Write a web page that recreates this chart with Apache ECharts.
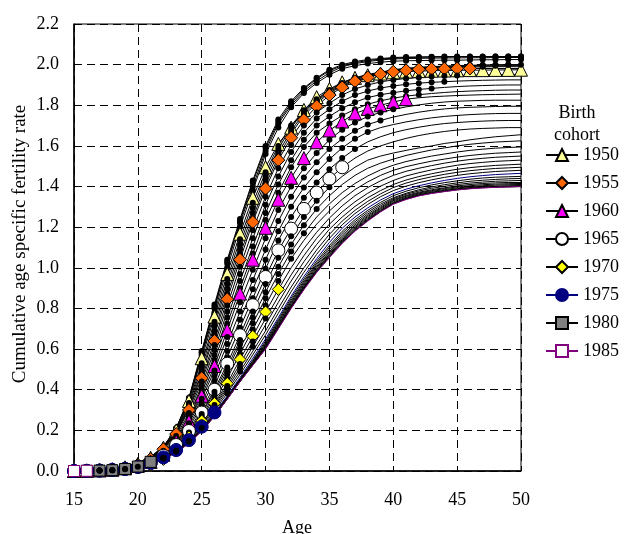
<!DOCTYPE html>
<html><head><meta charset="utf-8">
<script src="https://cdn.jsdelivr.net/npm/echarts@6/dist/echarts.min.js"></script>
<style>html,body{margin:0;padding:0;background:#fff}#chart{width:624px;height:534px}</style>
</head><body><div id="chart"></div>
<script>
const ages = [15,16,17,18,19,20,21,22,23,24,25,26,27,28,29,30,31,32,33,34,35,36,37,38,39,40,41,42,43,44,45,46,47,48,49,50];
const cohortYears = [1946,1947,1948,1949,1950,1951,1952,1953,1954,1955,1956,1957,1958,1959,1960,1961,1962,1963,1964,1965,1966,1967,1968,1969,1970,1971,1972,1973,1974,1975,1976,1977,1978,1979,1980,1981,1982,1983,1984,1985];
const lastObservedAge = [50,50,50,50,50,50,49,48,47,46,45,44,43,42,41,40,39,38,37,36,35,34,33,32,31,30,29,28,27,26,25,24,23,22,21,20,19,18,17,16];
const legendCohorts = ['1950','1955','1960','1965','1970','1975','1980','1985'];

const c1946 = [0,0.002,0.005,0.01,0.02, 0.04,0.07,0.12,0.21,0.36, 0.59,0.82,1.04,1.24,1.43, 1.60,1.73,1.82,1.885,1.935, 1.975,2.0,2.015,2.025,2.03, 2.035,2.037,2.038,2.039,2.04, 2.04,2.04,2.04,2.04,2.04, 2.04];
const c1947 = [0,0.002,0.005,0.01,0.02, 0.04,0.07,0.12,0.21,0.355, 0.585,0.81,1.03,1.23,1.42, 1.59,1.72,1.81,1.88,1.93, 1.97,1.995,2.01,2.02,2.027, 2.032,2.035,2.036,2.037,2.038, 2.038,2.039,2.039,2.04,2.04, 2.04];
const c1948 = [0,0.002,0.005,0.01,0.019, 0.038,0.068,0.118,0.208,0.352, 0.578,0.80,1.02,1.22,1.40, 1.575,1.71,1.80,1.87,1.92, 1.96,1.99,2.005,2.015,2.023, 2.028,2.03,2.031,2.032,2.033, 2.033,2.034,2.034,2.035,2.035, 2.035];
const c1949 = [0,0.002,0.004,0.009,0.018, 0.037,0.066,0.116,0.205,0.35, 0.57,0.78,1.0,1.20,1.38, 1.56,1.69,1.79,1.86,1.91, 1.95,1.98,1.995,2.005,2.012, 2.017,2.019,2.02,2.021,2.022, 2.022,2.023,2.024,2.024,2.025, 2.025];
const c1950 = [0,0.002,0.004,0.009,0.018, 0.035,0.065,0.115,0.2,0.345, 0.555,0.76,0.97,1.168,1.345, 1.495,1.61,1.69,1.777,1.84, 1.88,1.913,1.935,1.948,1.956, 1.962,1.966,1.968,1.97,1.971, 1.972,1.973,1.973,1.974,1.974, 1.975];
const c1951 = [0,0.002,0.004,0.008,0.017, 0.033,0.062,0.112,0.195,0.335, 0.53,0.735,0.945,1.14,1.32, 1.47,1.60,1.70,1.775,1.83, 1.875,1.91,1.935,1.952,1.963, 1.975,1.982,1.987,1.99,1.993, 1.995,1.997,1.998,1.999,2.0, 2.0];
const c1952 = [0,0.002,0.004,0.008,0.016, 0.032,0.061,0.11,0.19,0.325, 0.51,0.715,0.92,1.115,1.295, 1.45,1.585,1.69,1.77,1.825, 1.87,1.905,1.93,1.948,1.96, 1.973,1.98,1.985,1.988,1.991, 1.993,1.995,1.997,1.998,1.999, 2.0];
const c1953 = [0,0.002,0.004,0.008,0.016, 0.031,0.06,0.109,0.187,0.315, 0.49,0.69,0.895,1.09,1.27, 1.43,1.565,1.675,1.76,1.82, 1.865,1.90,1.925,1.944,1.957, 1.97,1.977,1.982,1.985,1.988, 1.99,1.992,1.993,1.994,1.995, 1.995];
const c1954 = [0,0.002,0.004,0.008,0.015, 0.03,0.059,0.108,0.184,0.308, 0.475,0.67,0.87,1.065,1.245, 1.41,1.545,1.66,1.75,1.81, 1.86,1.895,1.92,1.94,1.954, 1.968,1.975,1.98,1.983,1.986, 1.987,1.988,1.989,1.99,1.99, 1.99];
const c1955 = [0,0.002,0.004,0.008,0.015, 0.03,0.058,0.107,0.182,0.30, 0.457,0.64,0.845,1.04,1.225, 1.39,1.53,1.64,1.728,1.795, 1.85,1.888,1.918,1.937,1.953, 1.965,1.972,1.977,1.979,1.98, 1.981,1.981,1.981,1.981,1.981, 1.981];
const c1956 = [0,0.002,0.004,0.008,0.015, 0.029,0.055,0.10,0.172,0.285, 0.44,0.62,0.815,1.005,1.185, 1.35,1.49,1.605,1.70,1.765, 1.81,1.85,1.88,1.90,1.915, 1.925,1.932,1.937,1.941,1.944, 1.947,1.948,1.949,1.95,1.95, 1.95];
const c1957 = [0,0.001,0.003,0.007,0.014, 0.028,0.052,0.095,0.163,0.27, 0.42,0.595,0.785,0.97,1.145, 1.31,1.45,1.57,1.665,1.735, 1.78,1.82,1.85,1.87,1.885, 1.895,1.903,1.909,1.913,1.916, 1.919,1.921,1.923,1.924,1.925, 1.925];
const c1958 = [0,0.001,0.003,0.007,0.013, 0.027,0.05,0.088,0.155,0.258, 0.40,0.57,0.755,0.935,1.105, 1.27,1.41,1.53,1.63,1.70, 1.745,1.785,1.815,1.838,1.852, 1.862,1.871,1.878,1.883,1.888, 1.892,1.895,1.897,1.899,1.90, 1.90];
const c1959 = [0,0.001,0.003,0.006,0.013, 0.026,0.048,0.083,0.148,0.25, 0.385,0.545,0.725,0.90,1.07, 1.235,1.37,1.495,1.595,1.665, 1.71,1.75,1.78,1.805,1.822, 1.835,1.845,1.852,1.858,1.863, 1.867,1.87,1.872,1.874,1.875, 1.875];
const c1960 = [0,0.001,0.003,0.006,0.013, 0.025,0.045,0.08,0.145,0.244, 0.37,0.517,0.693,0.873,1.04, 1.197,1.335,1.443,1.54,1.618, 1.676,1.72,1.76,1.782,1.80, 1.816,1.83,1.837,1.842,1.845, 1.848,1.85,1.852,1.853,1.854, 1.855];
const c1961 = [0,0.001,0.003,0.006,0.012, 0.024,0.044,0.079,0.142,0.235, 0.355,0.495,0.66,0.83,0.99, 1.145,1.285,1.40,1.49,1.565, 1.63,1.68,1.715,1.745,1.765, 1.78,1.792,1.802,1.81,1.816, 1.82,1.822,1.824,1.825,1.825, 1.825];
const c1962 = [0,0.001,0.003,0.005,0.012, 0.023,0.043,0.078,0.138,0.225, 0.335,0.47,0.625,0.785,0.94, 1.09,1.23,1.35,1.445,1.52, 1.585,1.635,1.675,1.705,1.725, 1.742,1.755,1.766,1.775,1.782, 1.787,1.79,1.792,1.794,1.795, 1.795];
const c1963 = [0,0.001,0.002,0.005,0.011, 0.022,0.042,0.077,0.135,0.215, 0.318,0.445,0.59,0.745,0.895, 1.04,1.18,1.30,1.395,1.47, 1.535,1.59,1.635,1.668,1.69, 1.705,1.718,1.729,1.738,1.745, 1.75,1.754,1.757,1.759,1.76, 1.76];
const c1964 = [0,0.001,0.002,0.005,0.011, 0.021,0.041,0.076,0.13,0.205, 0.30,0.42,0.56,0.705,0.85, 0.995,1.135,1.25,1.345,1.42, 1.485,1.54,1.585,1.62,1.645, 1.665,1.68,1.692,1.702,1.71, 1.715,1.719,1.722,1.724,1.725, 1.725];
const c1965 = [0,0.001,0.002,0.005,0.01, 0.02,0.04,0.075,0.128,0.197, 0.288,0.40,0.528,0.668,0.816, 0.955,1.086,1.193,1.29,1.37, 1.438,1.495,1.54,1.575,1.60, 1.62,1.637,1.651,1.662,1.671, 1.678,1.683,1.686,1.688,1.69, 1.69];
const c1966 = [0,0.001,0.002,0.005,0.01, 0.019,0.038,0.072,0.122,0.19, 0.28,0.39,0.51,0.645,0.785, 0.92,1.05,1.155,1.25,1.33, 1.397,1.45,1.495,1.53,1.55, 1.565,1.578,1.59,1.60,1.612, 1.62,1.63,1.638,1.645,1.65, 1.655];
const c1967 = [0,0.001,0.002,0.004,0.009, 0.018,0.036,0.068,0.116,0.185, 0.27,0.375,0.495,0.625,0.755, 0.88,1.005,1.115,1.21,1.29, 1.355,1.41,1.455,1.49,1.515, 1.535,1.553,1.567,1.58,1.59, 1.60,1.608,1.614,1.619,1.622, 1.625];
const c1968 = [0,0.001,0.002,0.004,0.009, 0.017,0.034,0.064,0.11,0.178, 0.26,0.362,0.478,0.602,0.727, 0.85,0.97,1.08,1.17,1.25, 1.315,1.37,1.415,1.452,1.482, 1.505,1.523,1.537,1.55,1.56, 1.57,1.578,1.584,1.589,1.592, 1.595];
const c1969 = [0,0.001,0.002,0.004,0.008, 0.016,0.032,0.06,0.105,0.172, 0.252,0.347,0.457,0.577,0.697, 0.815,0.935,1.045,1.135,1.215, 1.28,1.337,1.385,1.423,1.455, 1.48,1.498,1.512,1.525,1.535, 1.545,1.553,1.559,1.564,1.567, 1.57];
const c1970 = [0,0.001,0.002,0.004,0.008, 0.015,0.03,0.057,0.10,0.168, 0.246,0.333,0.431,0.549,0.663, 0.783,0.894,1.00,1.095,1.175, 1.245,1.305,1.355,1.395,1.428, 1.455,1.475,1.49,1.503,1.515, 1.525,1.533,1.539,1.544,1.547, 1.55];
const c1971 = [0,0.001,0.002,0.004,0.008, 0.016,0.032,0.059,0.10,0.164, 0.24,0.325,0.418,0.527,0.637, 0.75,0.86,0.965,1.06,1.145, 1.215,1.275,1.325,1.367,1.402, 1.43,1.452,1.468,1.482,1.494, 1.505,1.513,1.519,1.524,1.527, 1.53];
const c1972 = [0,0.001,0.002,0.004,0.008, 0.017,0.034,0.061,0.101,0.16, 0.234,0.318,0.407,0.508,0.612, 0.72,0.83,0.935,1.03,1.115, 1.19,1.25,1.302,1.345,1.38, 1.41,1.432,1.449,1.463,1.475, 1.485,1.493,1.499,1.504,1.507, 1.51];
const c1973 = [0,0.001,0.002,0.004,0.008, 0.018,0.035,0.063,0.102,0.157, 0.228,0.308,0.396,0.49,0.59, 0.69,0.8,0.905,1.0,1.088, 1.165,1.23,1.283,1.327,1.364, 1.395,1.417,1.434,1.448,1.46, 1.47,1.478,1.484,1.489,1.492, 1.495];
const c1974 = [0,0.001,0.002,0.004,0.009, 0.019,0.037,0.065,0.102,0.154, 0.222,0.298,0.383,0.475,0.572, 0.67,0.777,0.882,0.978,1.066, 1.145,1.212,1.267,1.312,1.35, 1.38,1.402,1.419,1.433,1.445, 1.455,1.463,1.469,1.474,1.477, 1.48];
const c1975 = [0,0.001,0.002,0.005,0.01, 0.02,0.04,0.067,0.103,0.152, 0.218,0.288,0.37,0.46,0.555, 0.65,0.755,0.86,0.957,1.045, 1.125,1.195,1.25,1.295,1.334, 1.365,1.387,1.404,1.418,1.43, 1.44,1.448,1.454,1.459,1.462, 1.465];
const c1976 = [0,0.001,0.002,0.005,0.01, 0.02,0.039,0.065,0.10,0.148, 0.212,0.283,0.365,0.453,0.545, 0.64,0.745,0.85,0.945,1.033, 1.11,1.18,1.237,1.283,1.322, 1.355,1.377,1.394,1.408,1.419, 1.428,1.436,1.442,1.446,1.448, 1.45];
const c1977 = [0,0.001,0.002,0.005,0.01, 0.02,0.039,0.064,0.098,0.145, 0.208,0.279,0.362,0.449,0.54, 0.632,0.737,0.84,0.935,1.023, 1.1,1.17,1.227,1.274,1.313, 1.345,1.367,1.384,1.398,1.409, 1.418,1.426,1.431,1.435,1.438, 1.44];
const c1978 = [0,0.001,0.003,0.006,0.011, 0.021,0.04,0.063,0.096,0.143, 0.205,0.276,0.36,0.446,0.535, 0.625,0.73,0.832,0.927,1.015, 1.09,1.16,1.218,1.265,1.305, 1.34,1.362,1.378,1.391,1.401, 1.41,1.417,1.422,1.426,1.428, 1.43];
const c1979 = [0,0.001,0.003,0.006,0.012, 0.022,0.041,0.063,0.095,0.142, 0.203,0.274,0.358,0.444,0.531, 0.62,0.723,0.825,0.92,1.007, 1.08,1.151,1.21,1.258,1.298, 1.335,1.356,1.372,1.384,1.394, 1.403,1.41,1.415,1.418,1.42, 1.42];
const c1980 = [0,0.001,0.002,0.004,0.01, 0.022,0.045,0.065,0.096,0.141, 0.202,0.273,0.358,0.443,0.529, 0.615,0.717,0.818,0.913,1.0, 1.075,1.145,1.203,1.252,1.293, 1.33,1.352,1.368,1.38,1.39, 1.398,1.404,1.409,1.412,1.414, 1.415];
const c1981 = [0,0.001,0.002,0.004,0.01, 0.021,0.042,0.062,0.094,0.14, 0.2,0.272,0.357,0.442,0.527, 0.61,0.712,0.812,0.907,0.993, 1.068,1.138,1.197,1.246,1.288, 1.325,1.347,1.364,1.376,1.385, 1.393,1.399,1.404,1.407,1.409, 1.41];
const c1982 = [0,0.001,0.002,0.004,0.009, 0.02,0.041,0.061,0.093,0.139, 0.2,0.271,0.356,0.441,0.525, 0.607,0.708,0.808,0.903,0.988, 1.063,1.133,1.192,1.241,1.283, 1.32,1.343,1.36,1.372,1.381, 1.389,1.395,1.4,1.402,1.404, 1.405];
const c1983 = [0,0.001,0.002,0.004,0.009, 0.02,0.04,0.06,0.092,0.138, 0.199,0.27,0.355,0.44,0.522, 0.604,0.705,0.805,0.899,0.984, 1.058,1.128,1.187,1.237,1.28, 1.318,1.34,1.357,1.369,1.378, 1.386,1.392,1.396,1.398,1.399, 1.40];
const c1984 = [0,0.001,0.002,0.004,0.009, 0.02,0.039,0.06,0.091,0.137, 0.198,0.27,0.354,0.44,0.521, 0.602,0.702,0.802,0.895,0.98, 1.054,1.124,1.183,1.233,1.277, 1.315,1.338,1.355,1.367,1.376, 1.384,1.39,1.394,1.397,1.399, 1.40];
const c1985 = [0,0.001,0.002,0.004,0.009, 0.018,0.037,0.059,0.09,0.136, 0.197,0.269,0.353,0.44,0.52, 0.60,0.70,0.80,0.892,0.977, 1.05,1.12,1.18,1.23,1.275, 1.313,1.336,1.354,1.366,1.375, 1.383,1.389,1.393,1.396,1.398, 1.40];

const cohortValues = [c1946,c1947,c1948,c1949,c1950,c1951,c1952,c1953,c1954,c1955,c1956,c1957,c1958,c1959,c1960,c1961,c1962,c1963,c1964,c1965,c1966,c1967,c1968,c1969,c1970,c1971,c1972,c1973,c1974,c1975,c1976,c1977,c1978,c1979,c1980,c1981,c1982,c1983,c1984,c1985];

const FONT = '"Liberation Serif", "Times New Roman", serif';
const markerStyles = {
  1950: {symbol:'triangle', size:13, fill:'#FFFF99', border:'#000000', line:'#000000'},
  1955: {symbol:'diamond',  size:13, fill:'#FF6600', border:'#000000', line:'#000000'},
  1960: {symbol:'triangle', size:13, fill:'#FF00FF', border:'#000000', line:'#000000'},
  1965: {symbol:'circle',   size:13, fill:'#FFFFFF', border:'#000000', line:'#000000'},
  1970: {symbol:'diamond',  size:12, fill:'#FFFF00', border:'#000000', line:'#000000'},
  1975: {symbol:'circle',   size:13, fill:'#000080', border:'#000080', line:'#000080'},
  1980: {symbol:'rect',     size:11, fill:'#808080', border:'#000000', line:'#000000'},
  1985: {symbol:'rect',     size:11, fill:'#FFFFFF', border:'#800080', line:'#800080'}
};
const dotStyle = {symbol:'circle', size:6, fill:'#000000', border:'#000000', line:'#000000', bw:0};

const series = cohortYears.map((yr, i) => {
  const st = markerStyles[yr] || dotStyle;
  const vals = cohortValues[i];
  return {
    type: 'line',
    name: String(yr),
    data: ages.map((a, j) => {
      const item = {value: [a, vals[j]]};
      if (a > lastObservedAge[i]) item.symbol = 'none';
      return item;
    }),
    symbol: st.symbol,
    symbolSize: st.size,
    showSymbol: true,
    showAllSymbol: true,
    itemStyle: {color: st.fill, borderColor: st.border, borderWidth: st.bw === undefined ? 1 : st.bw, opacity: 1},
    lineStyle: {color: st.line, width: 1},
    clip: false,
    silent: true,
    animation: false,
    emphasis: {disabled: true}
  };
});

const chart = echarts.init(document.getElementById('chart'), null, {renderer: 'canvas'});
chart.setOption({
  backgroundColor: '#ffffff',
  animation: false,
  grid: {left: 74, right: 103, top: 24, bottom: 63, show: true, borderColor: '#000', borderWidth: 1, containLabel: false},
  xAxis: {
    type: 'value', min: 15, max: 50, interval: 5,
    axisLine: {lineStyle: {color: '#000', width: 1.5}},
    axisTick: {inside: true, length: 5, lineStyle: {color: '#000'}},
    axisLabel: {fontFamily: FONT, fontSize: 18, color: '#000', margin: 20},
    splitLine: {show: true, lineStyle: {color: '#000', type: [8, 5], width: 1}}
  },
  yAxis: {
    type: 'value', min: 0, max: 2.2, interval: 0.2,
    axisLine: {show: true, lineStyle: {color: '#000', width: 1.5}},
    axisTick: {show: true, inside: true, length: 5, lineStyle: {color: '#000'}},
    axisLabel: {fontFamily: FONT, fontSize: 18, color: '#000', margin: 15, formatter: v => v.toFixed(1)},
    splitLine: {show: true, lineStyle: {color: '#000', type: [8, 5], width: 1}}
  },
  legend: {
    data: legendCohorts, orient: 'vertical', left: 545, top: 146, padding: 0,
    itemWidth: 32, itemHeight: 15, itemGap: 10, selectedMode: false,
    textStyle: {fontFamily: FONT, fontSize: 18, color: '#000'}
  },
  graphic: [
    {type: 'text', x: 577, y: 124, style: {text: 'Birth\ncohort', font: '18px ' + FONT, fill: '#000', align: 'center', verticalAlign: 'middle', lineHeight: 22}},
    {type: 'text', x: 20, y: 244, rotation: Math.PI / 2, style: {text: 'Cumulative age specific fertility rate', font: '19px ' + FONT, fill: '#000', align: 'center', verticalAlign: 'middle'}},
    {type: 'text', x: 297, y: 528, style: {text: 'Age', font: '18px ' + FONT, fill: '#000', align: 'center', verticalAlign: 'middle'}}
  ],
  series: series
});
</script>
</body></html>
